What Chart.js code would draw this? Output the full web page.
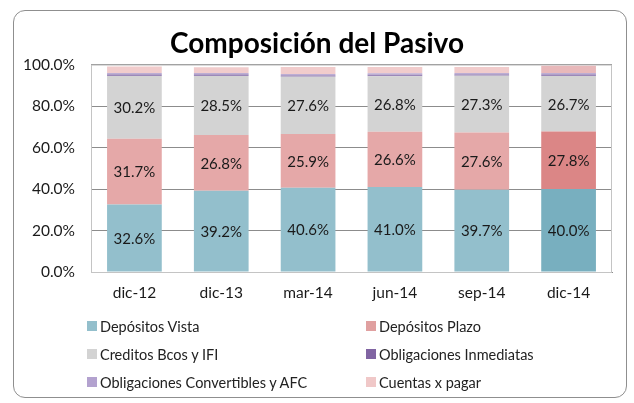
<!DOCTYPE html>
<html>
<head>
<meta charset="utf-8">
<script src="https://cdn.jsdelivr.net/npm/chart.js@4.4.1/dist/chart.umd.min.js"></script>
<style>
  html, body { margin: 0; padding: 0; background: #fff; }
  #wrap { position: relative; width: 634px; height: 403px; overflow: hidden; font-family: Lato, 'Open Sans', sans-serif; }
  #frame { position: absolute; left: 13px; top: 10px; width: 614px; height: 388px; border: 1.5px solid #8f8f8f; border-radius: 12px; box-sizing: border-box; }
  #c { position: absolute; left: 0; top: 0; }
  #legend { position: absolute; left: 87px; top: 317px; width: 460px; display: grid; grid-template-columns: 279px 200px; row-gap: 10px; font-size: 14.5px; color: #222; }
  #legend .it { display: flex; align-items: center; height: 18px; white-space: nowrap; }
  #legend .sw { width: 10px; height: 10px; margin-right: 3px; display: inline-block; }
</style>
</head>
<body>
<div id="wrap">
  <div id="frame"></div>
  <canvas id="c" width="634" height="403"></canvas>
  <div id="legend"></div>
</div>
<script>
const periods = ['dic-12', 'dic-13', 'mar-14', 'jun-14', 'sep-14', 'dic-14'];
const depVista = [32.6, 39.2, 40.6, 41.0, 39.7, 40.0];
const depPlazo = [31.7, 26.8, 25.9, 26.6, 27.6, 27.8];
const creditos = [30.2, 28.5, 27.6, 26.8, 27.3, 26.7];
const oblInmediatas = [0.8, 0.8, 0.8, 0.8, 0.8, 0.8];
const oblConvertibles = [0.6, 0.6, 0.6, 0.6, 0.6, 0.6];
const cuentas = [3.2, 2.8, 3.4, 3.1, 2.9, 3.6];
const yTicks = [0, 20, 40, 60, 80, 100];

// last bar is highlighted with darker tones
const hl = (base, last) => periods.map((_, i) => i === periods.length - 1 ? last : base);

const series = [
  { label: 'Depósitos Vista', data: depVista, color: '#93bfcc', last: '#78afbf', swatch: '#93bfcc', show: true },
  { label: 'Depósitos Plazo', data: depPlazo, color: '#e5a8a8', last: '#db8686', swatch: '#e0a0a0', show: true },
  { label: 'Creditos Bcos y IFI', data: creditos, color: '#d3d3d3', last: '#d3d3d3', swatch: '#d3d3d3', show: true },
  { label: 'Obligaciones Inmediatas', data: oblInmediatas, color: '#9c88b9', last: '#9c88b9', swatch: '#8064a2', show: false },
  { label: 'Obligaciones Convertibles y AFC', data: oblConvertibles, color: '#bcadd4', last: '#bcadd4', swatch: '#b3a2cf', show: false },
  { label: 'Cuentas x pagar', data: cuentas, color: '#f1cccc', last: '#e8b8ba', swatch: '#f0c8c8', show: false },
];

const labelPlugin = {
  id: 'segLabels',
  afterDatasetsDraw(chart) {
    const ctx = chart.ctx;
    ctx.save();
    ctx.font = '15px Lato, "Open Sans", sans-serif';
    ctx.fillStyle = '#1a1a1a';
    ctx.textAlign = 'center';
    ctx.textBaseline = 'middle';
    chart.data.datasets.forEach((ds, di) => {
      if (!series[di].show) return;
      chart.getDatasetMeta(di).data.forEach((bar, i) => {
        const mid = (bar.y + bar.base) / 2;
        ctx.fillText(ds.data[i].toFixed(1) + '%', bar.x, mid + 1);
      });
    });
    ctx.restore();
  }
};

const boxPlugin = {
  id: 'plotBox',
  beforeDatasetsDraw(chart) {
    const a = chart.chartArea, ctx = chart.ctx;
    ctx.save();
    ctx.strokeStyle = '#c4c4c4';
    ctx.lineWidth = 1;
    ctx.strokeRect(a.left + 0.5, a.top + 0.5, a.right - a.left - 1, a.bottom - a.top);
    ctx.restore();
  }
};

new Chart(document.getElementById('c').getContext('2d'), {
  type: 'bar',
  data: {
    labels: periods,
    datasets: series.map(s => ({
      label: s.label, data: s.data,
      backgroundColor: hl(s.color, s.last), borderWidth: 0,
      categoryPercentage: 1, barPercentage: 0.63
    }))
  },
  options: {
    responsive: false, animation: false,
    layout: { padding: { left: 22, right: 22, top: 0, bottom: 101 } },
    plugins: {
      legend: { display: false }, tooltip: { enabled: false },
      title: { display: true, text: 'Composición del Pasivo', color: '#000', font: { family: 'Lato', size: 28, weight: 'bold', lineHeight: 1.2 }, padding: { top: 27, bottom: 4 } }
    },
    scales: {
      x: {
        stacked: true,
        grid: { display: false, drawTicks: false },
        border: { display: true, color: '#8c8c8c' },
        ticks: { color: '#1a1a1a', font: { family: 'Lato', size: 15.5 }, padding: 12 },
        afterFit: s => { s.height = 30; }
      },
      y: {
        stacked: true, min: 0, max: 100, z: 1,
        afterBuildTicks: s => { s.ticks = yTicks.map(v => ({ value: v })); },
        grid: { color: '#8c8c8c', drawTicks: false },
        border: { display: true, color: '#8c8c8c' },
        ticks: { color: '#1a1a1a', font: { family: 'Lato', size: 15.5 }, padding: 16, callback: v => v.toFixed(1) + '%' },
        afterFit: s => { s.width = 69; }
      }
    }
  },
  plugins: [boxPlugin, labelPlugin]
});

const leg = document.getElementById('legend');
series.forEach(s => {
  const el = document.createElement('div');
  el.className = 'it';
  el.innerHTML = `<span class="sw" style="background:${s.swatch}"></span>${s.label}`;
  leg.appendChild(el);
});
</script>
</body>
</html>
